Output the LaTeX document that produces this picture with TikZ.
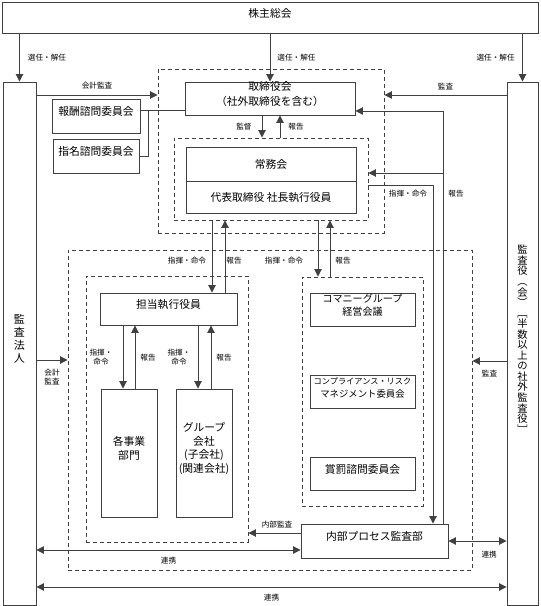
\documentclass[tikz,border=0pt]{standalone}
\usepackage{fontspec}
\setmainfont{Noto Sans CJK JP}
\usetikzlibrary{arrows.meta,fit,positioning}
\definecolor{gris}{gray}{0.25}
\tikzset{
	caja/.style={draw=gris, line width=0.8pt, inner sep=0pt, align=center, font=\fontsize{9.2}{12}\selectfont},
	grupo/.style={draw=gris, line width=0.8pt, dash pattern=on 1.2mm off 0.9mm, inner sep=0pt},
	conector/.style={draw=gris, line width=0.8pt},
	flecha/.style={conector, -{Triangle[length=2.2mm,width=2.2mm]}},
	doble/.style={conector, {Triangle[length=2.2mm,width=2.2mm]}-{Triangle[length=2.2mm,width=2.2mm]}},
	etiq/.style={inner sep=0pt, align=center, font=\fontsize{6.5}{8}\selectfont}
}
\begin{document}
\begin{tikzpicture}[x=0.3mm, y=-0.3mm]
	\useasboundingbox (0,0) rectangle (540,606);
	% cajas
	\node[caja, fit={(2,2) (538,33)}] (kabunushi) {株主総会};
	\node[caja, fit={(3,82) (36,605)}, font=\fontsize{9.4}{11.2}\selectfont] (kansahojin) {監\\査\\法\\人};
	\node[caja, fit={(507,82) (538,605)}, font=\fontsize{8.8}{9}\selectfont] (kansayaku) {監\\査\\役\\︵\\会\\︶\\﹇\\半\\数\\以\\上\\の\\社\\外\\監\\査\\役\\﹈};
	\node[grupo, fit={(158,69) (384,233)}] (directorio) {}; %directorio
	\node[caja, fit={(185,82) (355,115)}] (torishimari) {取締役会\\（社外取締役を含む）};
	\node[caja, fit={(52,99) (140,133)}] (hoshu) {報酬諮問委員会};
	\node[caja, fit={(53,139) (139,173)}] (shimei) {指名諮問委員会};
	\node[grupo, fit={(174,138) (368,220)}] (joumuG) {};
	\node[caja, fit={(186,147) (356,213)}] (joumu) {};
	\node[font=\fontsize{9.2}{12}\selectfont] (joumuT) at (271,164) {常務会};
	\node[font=\fontsize{9.2}{12}\selectfont] (daihyo) at (271,197) {代表取締役\ 社長執行役員};
	\draw[conector] (joumu.west |- 0,181) -- (joumu.east |- 0,181); %division
	\node[grupo, fit={(68,250) (472,570)}] (ejecucion) {};
	\node[grupo, fit={(86,276) (248,542)}] (izq) {};
	\node[grupo, fit={(302,277) (423,506)}] (der) {};
	\node[caja, fit={(100,293) (237,325)}] (tanto) {担当執行役員};
	\node[caja, fit={(101,389) (157,517)}] (jigyo) {各事業\\部門};
	\node[caja, fit={(176,389) (232,517)}, font=\fontsize{9.2}{11.5}\selectfont] (gurupu) {グループ\\会社\\(子会社)\\(関連会社)};
	\node[caja, fit={(310,293) (415,326)}, font=\fontsize{8.6}{11.5}\selectfont] (keiei) {コマニーグループ\\経営会議};
	\node[caja, fit={(310,375) (415,408)}, font=\fontsize{8}{11}\selectfont] (compliance) {{\fontsize{7}{11}\selectfont コンプライアンス・リスク}\\マネジメント委員会};
	\node[caja, fit={(310,457) (415,490)}] (shobatsu) {賞罰諮問委員会};
	\node[caja, fit={(301,524) (448,558)}] (naibu) {内部プロセス監査部};
	% 選任・解任
	\draw[flecha] (kabunushi.south -| kansahojin.north) -- (kansahojin.north) node[etiq, midway, right=2.4mm] (sen1) {選任・解任};
	\draw[flecha] (kabunushi.south -| torishimari.north) -- (torishimari.north) node[etiq, midway, right=2.1mm] (sen2) {選任・解任};
	\draw[flecha] (kabunushi.south -| kansayaku.north) -- (kansayaku.north) node[etiq, midway, left=2.2mm] (sen3) {選任・解任};
	% 監査
	\draw[flecha] (kansahojin.east |- 0,95) -- (directorio.west |- 0,95) node[etiq, midway, above=1.5mm] (kaikei1) {会計監査};
	\draw[flecha] (kansayaku.west |- 0,95) -- (directorio.east |- 0,95) node[etiq, midway, above=1.5mm] (kansa1) {監査};
	\draw[flecha] (kansahojin.east |- 0,360) -- (ejecucion.west |- 0,360) node[etiq, midway, below=2.5mm] (kaikei2) {会計\\監査};
	\draw[flecha] (kansayaku.west |- 0,361) -- (ejecucion.east |- 0,361) node[etiq, midway, below=2.5mm] (kansa2) {監査};
	% 諮問委員会
	\coordinate (codo) at (148,110);
	\draw[conector] (hoshu.east |- codo) -- (torishimari.west |- codo);
	\draw[conector] (codo) |- (shimei.east);
	% 監督・報告
	\draw[flecha] (torishimari.south -| 262,0) -- (joumuG.north -| 262,0) node[etiq, midway, left=3mm] (kantoku) {監督};
	\draw[flecha] (joumuG.north -| 280,0) -- (torishimari.south -| 280,0) node[etiq, midway, right=2.4mm] (hokoku1) {報告};
	% 内部プロセス監査部
	\coordinate (rama) at (443,173);
	\draw[flecha] (naibu.north -| rama) -- (443,111) -- (torishimari.east |- 0,111);
	\draw[flecha] (rama) -- (joumuG.east |- rama);
	\draw[flecha] (joumuG.east |- 0,185) -| (naibu.north -| 433,0);
	\node[etiq] (shiki1) at (408,194) {指揮・命令};
	\node[etiq] (hokoku2) at (456,194) {報告};
	% 常務会 → 下
	\draw[flecha] (joumuG.south -| 212,0) -- (tanto.north -| 212,0);
	\draw[flecha] (tanto.north -| 225,0) -- (joumuG.south -| 225,0);
	\node[etiq] (shiki2) at (187,261) {指揮・命令};
	\node[etiq] (hokoku3) at (234,261) {報告};
	\draw[flecha] (joumuG.south -| 318,0) -- (der.north -| 318,0);
	\draw[flecha] (der.north -| 330,0) -- (joumuG.south -| 330,0);
	\node[etiq] (shiki3) at (284,261) {指揮・命令};
	\node[etiq] (hokoku4) at (343,261) {報告};
	% 担当執行役員 → 下
	\draw[flecha] (tanto.south -| 123,0) -- (jigyo.north -| 123,0);
	\draw[flecha] (jigyo.north -| 135,0) -- (tanto.south -| 135,0);
	\draw[flecha] (tanto.south -| 198,0) -- (gurupu.north -| 198,0);
	\draw[flecha] (gurupu.north -| 211,0) -- (tanto.south -| 211,0);
	\node[etiq] (shiki4) at (101,357) {指揮・\\命令};
	\node[etiq] (hokoku5) at (148,358) {報告};
	\node[etiq] (shiki5) at (179,357) {指揮・\\命令};
	\node[etiq] (hokoku6) at (224,358) {報告};
	% 内部監査・連携
	\draw[flecha] (naibu.west |- 0,533) -- (izq.east |- 0,533) node[etiq, pos=0.45, above=1.2mm] (naibukansa) {内部監査};
	\draw[doble] (kansahojin.east |- 0,550) -- (naibu.west |- 0,550) node[etiq, midway, below=2mm] (renkei1) {連携};
	\draw[doble] (naibu.east) -- (kansayaku.west |- naibu.east) node[etiq, pos=0.7, below=3mm] (renkei2) {連携};
	\draw[doble] (kansahojin.east |- 0,587) -- (kansayaku.west |- 0,587) node[etiq, midway, below=2mm] (renkei3) {連携};
\end{tikzpicture}
\end{document}
